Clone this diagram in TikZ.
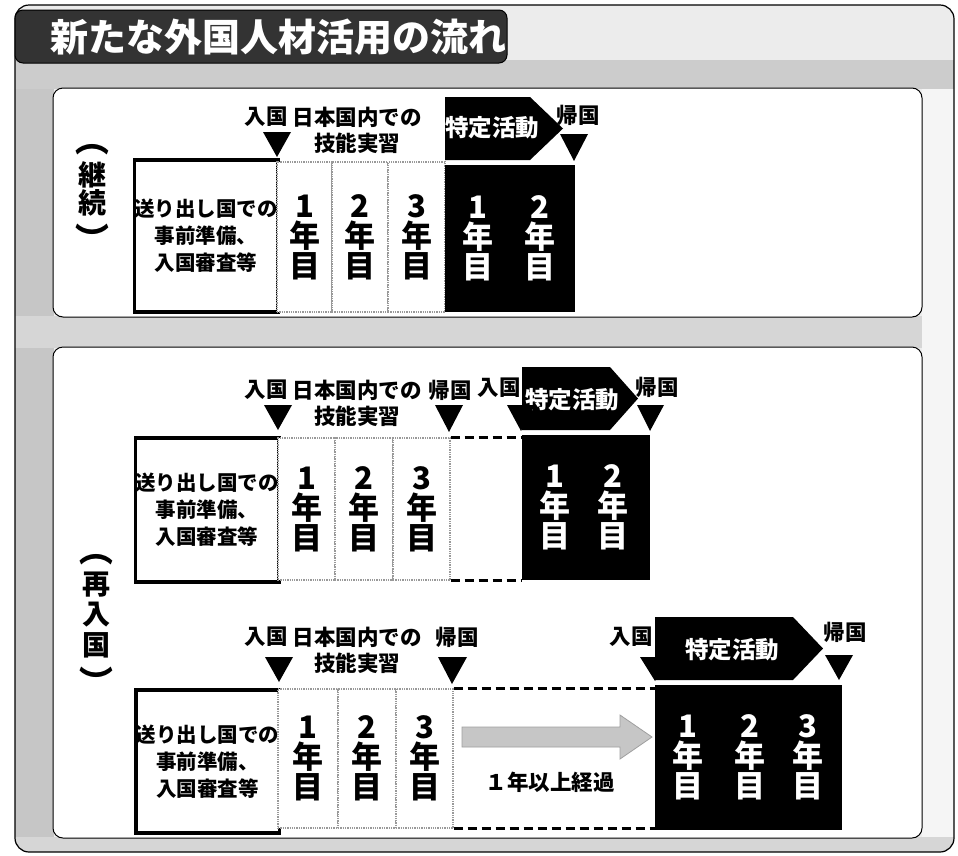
\documentclass[tikz,border=0pt]{standalone}
\usepackage{fontspec}
\newfontfamily\jp{Noto Sans CJK JP}
\tikzset{
  lbl/.style={font=\jp\bfseries\fontsize{21.5pt}{26pt}\selectfont, inner sep=0pt, align=center},
  vlbl/.style={font=\jp\bfseries\fontsize{28pt}{28pt}\selectfont, inner sep=0pt},
  vpar/.style={font=\jp\bfseries\fontsize{34pt}{34pt}\selectfont, inner sep=0pt, rotate=-90},
  prep/.style={draw=black, line width=3.5pt, fill=white, inner sep=0pt, align=center,
    font=\jp\bfseries\fontsize{20.5pt}{27pt}\selectfont},
  cell/.style={draw=gray!80, densely dotted, line width=1.3pt, fill=white, inner sep=0pt, align=center,
    font=\jp\bfseries\fontsize{31pt}{30pt}\selectfont},
  blk/.style={fill=black, inner sep=0pt},
  wyear/.style={text=white, inner sep=0pt, align=center, font=\jp\bfseries\fontsize{31pt}{30pt}\selectfont},
  act/.style={text=white, inner sep=0pt, font=\jp\bfseries\fontsize{23.5pt}{23.5pt}\selectfont},
  tri/.style={fill=black},
  gap/.style={line width=3pt, dash pattern=on 9pt off 5pt},
  panel/.style={draw=black, line width=1pt, fill=white, rounded corners=10pt},
}
\begin{document}
\begin{tikzpicture}[x=1pt,y=-1pt]
\useasboundingbox (0,0) rectangle (958,855);
\fill[white] (0,0) rectangle (958,855);
% outer frame
\begin{scope}
  \clip[rounded corners=14pt] (15,5) rectangle (954,852);
  \fill[gray!15] (15,5) rectangle (954,852);
  \fill[gray!45] (15,60) rectangle (54,852);
  \fill[gray!40] (15,60) rectangle (954,89);
  \fill[gray!32] (15,316) rectangle (922,348);
  \fill[gray!32] (15,837) rectangle (954,852);
  \fill[gray!8] (922,89) rectangle (954,837);
\end{scope}
\draw[line width=1.2pt, rounded corners=14pt] (15,5) rectangle (954,852);
% title banner
\draw[fill=black!80, line width=1pt, rounded corners=8pt] (15,10) rectangle (507,63);
\node[font=\jp\bfseries\fontsize{38pt}{38pt}\selectfont, text=white, inner sep=0pt] (title) at (278,37) {新たな外国人材活用の流れ};
% panels
\draw[panel] (53,88) rectangle (922,317);
\draw[panel] (53,347) rectangle (922,838);

% ---------------- panel 1 (継続)
\node[vpar] (p1a) at (92,139) {（};
\node[vlbl] (p1b) at (92,175) {継};
\node[vlbl] (p1c) at (92,203) {続};
\node[vpar] (p1d) at (92,239) {）};

\node[prep, minimum width=142pt, minimum height=152pt] (box1) at (206,236) {送り出し国での\\事前準備、\\入国審査等};
\node[cell, minimum width=55pt, minimum height=150pt] (c11) at (304.5,237) {1\\年\\目};
\node[cell, minimum width=56pt, minimum height=150pt] (c12) at (360,237) {2\\年\\目};
\node[cell, minimum width=57pt, minimum height=150pt] (c13) at (416.5,237) {3\\年\\目};
\node[blk, minimum width=130pt, minimum height=147pt] (b1) at (510,238.5) {};
\node[wyear] (b1y1) at (478,238) {1\\年\\目};
\node[wyear] (b1y2) at (540,238) {2\\年\\目};
\fill[black] (445,97) -- (530,97) -- (563,128.5) -- (530,160) -- (445,160) -- cycle;
\node[act] (a1) at (492,128) {特定活動};
\node[lbl] (in1) at (266,117) {入国};
\node[lbl] (jt1) at (357,130) {日本国内での\\技能実習};
\node[lbl] (out1) at (578,115) {帰国};
\fill[tri] (263,132) -- (291,132) -- (277,157) -- cycle;
\fill[tri] (560,134) -- (588,134) -- (574,161) -- cycle;

% ---------------- panel 2 (再入国)
\node[vpar] (p2a) at (96,549) {（};
\node[vlbl] (p2b) at (96,585) {再};
\node[vlbl] (p2c) at (96,615) {入};
\node[vlbl] (p2d) at (96,645) {国};
\node[vpar] (p2e) at (96,682) {）};

% row A
\node[prep, minimum width=142pt, minimum height=144pt] (box2) at (207,510) {送り出し国での\\事前準備、\\入国審査等};
\node[cell, minimum width=57pt, minimum height=142pt] (c21) at (306.5,509) {1\\年\\目};
\node[cell, minimum width=58pt, minimum height=142pt] (c22) at (364,509) {2\\年\\目};
\node[cell, minimum width=57pt, minimum height=142pt] (c23) at (421.5,509) {3\\年\\目};
\node[blk, minimum width=128pt, minimum height=145pt] (b2) at (586,507.5) {};
\node[wyear] (b2y1) at (555,507) {1\\年\\目};
\node[wyear] (b2y2) at (613,507) {2\\年\\目};
\draw[gap] (c23.north east) -- (b2.north west |- c23.north east);
\draw[gap] (c23.south east) -- (b2.south west |- c23.south east);
\fill[black] (522,367) -- (610,367) -- (638,398.5) -- (610,430) -- (522,430) -- cycle;
\node[act] (a2) at (572,400) {特定活動};
\node[lbl] (in2) at (266,390) {入国};
\node[lbl] (jt2) at (357,403) {日本国内での\\技能実習};
\node[lbl] (out2) at (450,390) {帰国};
\node[lbl] (in3) at (499,388) {入国};
\node[lbl] (out3) at (657,387) {帰国};
\fill[tri] (264,405) -- (292,405) -- (278,430) -- cycle;
\fill[tri] (435,405) -- (463,405) -- (449,432) -- cycle;
\fill[tri] (507,405) -- (535,405) -- (521,431) -- cycle;
\fill[tri] (637,405) -- (664,405) -- (650,431) -- cycle;

% row B
\node[prep, minimum width=141pt, minimum height=143pt] (box3) at (207.5,761.5) {送り出し国での\\事前準備、\\入国審査等};
\node[cell, minimum width=60pt, minimum height=139pt] (c31) at (308,758.5) {1\\年\\目};
\node[cell, minimum width=58pt, minimum height=139pt] (c32) at (367,758.5) {2\\年\\目};
\node[cell, minimum width=57pt, minimum height=139pt] (c33) at (424.5,758.5) {3\\年\\目};
\node[blk, minimum width=187pt, minimum height=145pt] (b3) at (748.5,757.5) {};
\node[wyear] (b3y1) at (688,757) {1\\年\\目};
\node[wyear] (b3y2) at (750,757) {2\\年\\目};
\node[wyear] (b3y3) at (808,757) {3\\年\\目};
\draw[gap] (c33.north east) -- (b3.north west |- c33.north east);
\draw[gap] (c33.south east) -- (b3.south west |- c33.south east);
\fill[black] (655,617) -- (793,617) -- (823,648.5) -- (793,680) -- (655,680) -- cycle;
\node[act] (a3) at (732,650) {特定活動};
\node[lbl] (in4) at (266,637) {入国};
\node[lbl] (jt3) at (357,650) {日本国内での\\技能実習};
\node[lbl] (out4) at (457,637) {帰国};
\node[lbl] (in5) at (631,637) {入国};
\node[lbl] (out5) at (845,632) {帰国};
\fill[tri] (265,657) -- (293,657) -- (279,682) -- cycle;
\fill[tri] (438,657) -- (467,657) -- (452,684) -- cycle;
\fill[tri] (640,657) -- (668,657) -- (655,681) -- cycle;
\fill[tri] (825,655) -- (853,655) -- (839,680) -- cycle;
\draw[fill=gray!45, draw=gray!75, line width=0.8pt] (462,727) -- (620,727) -- (620,715) -- (652,737) -- (620,759) -- (620,747) -- (462,747) -- cycle;
\node[lbl] (yr) at (550,782) {１年以上経過};
\end{tikzpicture}
\end{document}
